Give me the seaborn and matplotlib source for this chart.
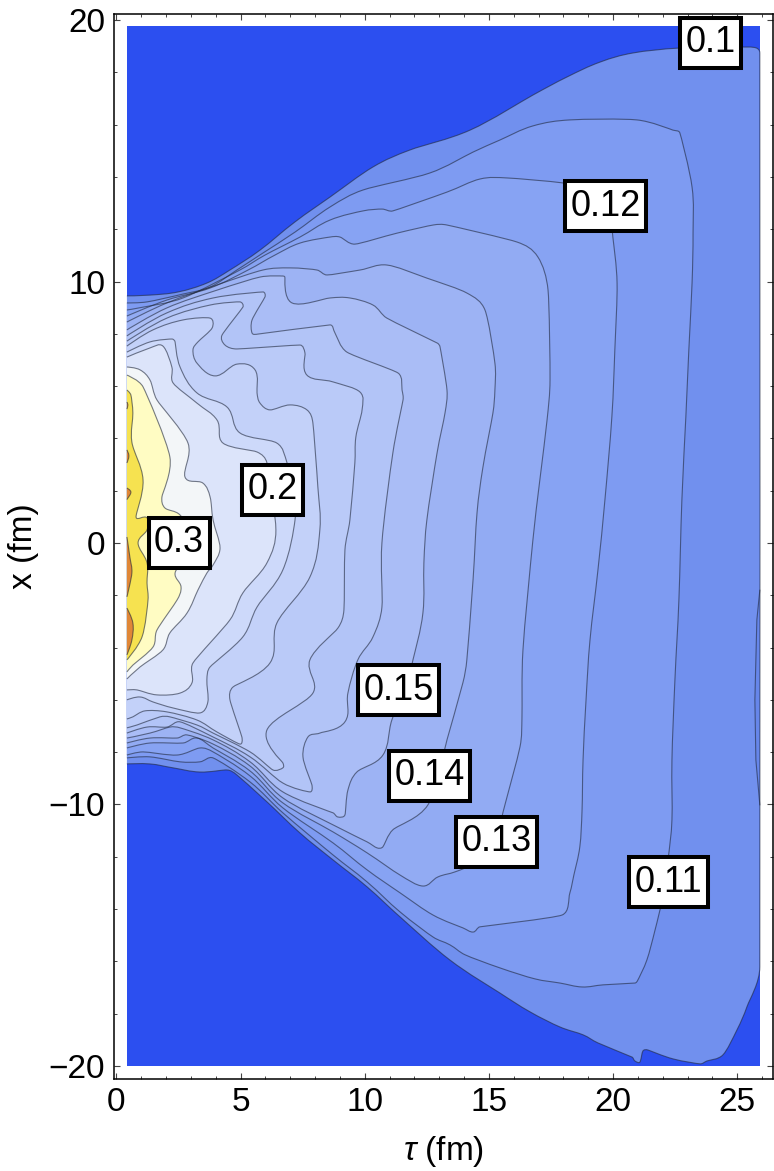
import numpy as np
import pandas as pd
import matplotlib
matplotlib.use('Agg')
import matplotlib.pyplot as plt
from matplotlib.patches import PathPatch
from matplotlib.path import Path
from matplotlib.ticker import MultipleLocator
import seaborn as sns

# Isotherm outlines, (tau, x) in fm, outermost first.
# Each one starts and ends on the left edge of the data region.
tau_range = [0.42, 25.91]
x_range = [-20.0, 19.77]

c_010 = [(0.42, 9.45), (1.35, 9.48), (2.48, 9.60), (3.64, 9.94), (4.57, 10.44), (5.78, 11.20), (7.19, 12.28),
         (8.60, 13.23), (10.33, 14.38), (11.82, 15.03), (14.24, 15.79), (16.77, 17.13), (18.14, 17.82),
         (19.47, 18.39), (20.80, 18.74), (22.69, 18.93), (25.19, 18.97), (25.91, 18.74), (25.91, -16.21),
         (25.39, -17.74), (24.99, -18.62), (24.42, -19.58), (23.78, -19.81), (23.50, -19.92), (22.41, -19.73),
         (21.40, -19.39), (21.20, -19.43), (21.08, -19.85), (20.88, -19.81), (20.76, -19.66), (19.39, -19.12),
         (18.79, -18.81), (17.86, -18.51), (16.65, -17.93), (15.44, -17.21), (13.43, -15.95), (11.42, -14.30),
         (10.09, -13.15), (8.72, -12.12), (7.39, -11.09), (6.06, -9.90), (4.85, -8.87), (4.45, -8.68),
         (3.36, -8.76), (2.28, -8.60), (1.35, -8.45), (0.42, -8.45)]
c_011 = [(0.42, 9.18), (1.23, 9.22), (2.68, 9.52), (3.77, 9.79), (4.85, 10.44), (5.90, 11.09), (7.19, 11.89),
         (8.60, 12.85), (9.93, 13.50), (12.62, 14.15), (14.36, 14.95), (15.44, 15.41), (16.77, 15.95),
         (18.26, 16.18), (20.96, 16.18), (22.41, 15.79), (22.69, 15.68), (23.18, 13.61), (23.22, 11.85),
         (23.18, 9.94), (23.05, 7.38), (22.93, 4.82), (22.77, 1.64), (22.65, -2.18), (22.49, -5.24),
         (22.37, -8.30), (22.37, -10.59), (22.21, -12.12), (21.97, -13.65), (21.69, -14.80), (21.36, -15.95),
         (21.00, -16.71), (20.88, -16.83), (19.59, -16.90), (18.75, -16.98), (17.86, -16.83), (16.85, -16.67),
         (15.44, -16.25), (14.04, -15.75), (13.43, -15.37), (12.75, -15.07), (11.42, -14.11), (10.09, -12.96),
         (8.72, -11.93), (6.70, -10.32), (5.38, -9.14), (3.89, -8.22), (3.36, -8.37), (2.56, -8.37),
         (1.35, -8.18), (0.42, -8.22)]
c_012 = [(0.42, 8.91), (1.07, 9.02), (2.68, 9.37), (4.97, 10.44), (5.98, 11.01), (7.39, 11.70), (8.60, 12.35),
         (9.93, 12.70), (10.69, 12.77), (11.13, 12.70), (13.31, 13.42), (14.64, 13.92), (15.73, 13.96),
         (17.98, 13.77), (19.47, 13.50), (19.87, 12.54), (19.99, 11.70), (20.16, 9.94), (20.07, 7.38),
         (19.95, 4.82), (19.67, 1.64), (19.39, -1.03), (19.07, -3.71), (18.91, -6.01), (18.79, -8.30),
         (18.75, -10.21), (18.66, -11.62), (18.42, -12.70), (18.26, -13.38), (17.94, -14.23), (14.64, -14.68),
         (14.36, -14.88), (13.95, -14.72), (12.75, -14.23), (11.42, -13.38), (10.09, -12.50), (8.72, -11.47),
         (6.70, -10.13), (5.38, -8.91), (3.89, -7.99), (3.36, -7.84), (2.44, -8.11), (1.07, -7.99), (0.42, -8.11)]
c_013 = [(0.42, 8.68), (2.03, 9.29), (3.77, 9.75), (5.30, 10.44), (6.38, 11.01), (7.39, 11.47), (8.60, 11.70),
         (9.00, 11.70), (9.60, 11.43), (11.30, 11.85), (12.75, 12.16), (13.31, 12.16), (16.13, 11.51),
         (16.97, 10.94), (17.38, 9.67), (17.46, 6.23), (17.34, 4.70), (17.05, 2.41), (16.77, 0.11), (16.37, -4.09),
         (16.33, -6.65), (16.25, -7.80), (15.56, -10.32), (15.32, -11.36), (14.24, -12.31), (13.63, -12.58),
         (12.95, -12.77), (12.34, -13.12), (11.42, -12.70), (10.09, -11.85), (8.72, -11.05), (6.70, -9.94),
         (5.38, -8.72), (3.89, -7.84), (3.24, -7.46), (2.68, -7.65), (1.35, -7.65), (0.42, -7.84)]
c_014 = [(0.42, 8.45), (2.03, 9.18), (4.05, 9.87), (5.90, 10.44), (6.99, 10.52), (8.07, 10.44), (8.48, 10.25),
         (9.81, 10.44), (10.89, 10.63), (12.50, 10.13), (14.11, 9.56), (14.84, 8.91), (15.24, 6.88), (15.24, 5.85),
         (15.16, 4.97), (14.76, 2.91), (14.52, 1.15), (14.36, -1.41), (14.11, -4.47), (13.95, -5.35), (13.31, -7.53),
         (13.23, -7.84), (12.54, -10.02), (11.13, -10.97), (10.73, -11.62), (10.49, -11.66), (10.09, -11.43),
         (8.72, -10.78), (6.70, -9.75), (5.38, -8.53), (3.89, -7.69), (2.84, -7.34), (2.44, -7.46), (1.35, -7.46),
         (0.42, -7.65)]
c_015 = [(0.42, 8.15), (2.03, 8.99), (4.05, 9.67), (5.78, 10.17), (6.66, 10.21), (6.78, 10.17), (7.07, 9.18),
         (8.60, 9.37), (9.40, 9.37), (10.33, 9.10), (10.89, 8.60), (12.91, 7.65), (13.03, 7.50), (13.31, 5.85),
         (13.23, 4.97), (12.91, 3.44), (12.50, 0.88), (12.38, -0.76), (12.34, -2.68), (11.94, -4.47), (11.62, -5.62),
         (11.09, -6.77), (10.73, -8.11), (9.68, -8.76), (9.32, -9.45), (9.20, -10.40), (8.92, -10.48), (8.72, -10.32),
         (6.70, -9.52), (5.38, -8.37), (3.89, -7.53), (2.56, -7.07), (2.15, -7.04), (1.35, -7.27), (0.42, -7.46)]
c_016 = [(0.42, 7.92), (2.03, 8.80), (3.89, 9.37), (5.90, 9.60), (5.98, 9.41), (5.46, 8.53), (5.46, 8.03),
         (5.70, 7.99), (8.60, 8.34), (8.80, 8.03), (9.28, 7.30), (11.34, 6.50), (11.50, 5.85), (11.54, 5.47),
         (11.13, 3.44), (10.69, 0.0), (10.69, -2.45), (10.33, -3.59), (9.72, -4.47), (9.32, -5.74), (9.20, -6.84),
         (8.19, -7.27), (7.71, -7.42), (7.51, -8.18), (7.87, -9.25), (7.79, -9.52), (6.70, -9.18), (5.38, -8.18),
         (3.89, -7.42), (2.56, -6.84), (2.03, -7.04), (1.23, -7.04), (0.42, -7.27)]
c_017 = [(0.42, 7.72), (2.03, 8.60), (3.77, 9.10), (4.97, 9.22), (5.09, 9.02), (4.25, 7.95), (4.37, 7.57),
         (4.85, 7.42), (7.39, 7.57), (7.59, 7.27), (7.67, 6.42), (8.72, 6.16), (9.81, 5.77), (9.89, 5.09),
         (9.64, 4.05), (9.60, 3.06), (9.40, 0.88), (9.20, -0.27), (9.16, -2.56), (8.92, -3.25), (7.79, -4.47),
         (7.91, -5.74), (6.06, -7.15), (6.70, -8.41), (6.70, -8.60), (6.30, -8.68), (5.38, -7.99), (3.89, -7.27),
         (3.24, -6.96), (2.15, -6.65), (1.75, -6.65), (0.83, -6.96), (0.42, -7.07)]
c_018 = [(0.42, 7.53), (1.47, 8.15), (2.68, 8.53), (3.77, 8.60), (3.85, 8.22), (3.28, 7.69), (3.08, 7.38),
         (3.24, 6.88), (3.97, 6.39), (4.85, 6.84), (5.58, 6.62), (5.66, 5.74), (5.78, 5.35), (6.18, 5.09),
         (6.99, 5.28), (7.67, 5.09), (7.91, 4.59), (8.11, 2.14), (8.19, 0.50), (7.79, -1.30), (6.46, -3.06),
         (6.18, -4.59), (4.69, -5.51), (4.57, -6.00), (5.05, -7.42), (4.97, -7.69), (4.05, -7.23), (3.24, -6.77),
         (2.03, -6.46), (1.15, -6.42), (0.66, -6.65), (0.42, -6.73)]
c_019 = [(0.42, 7.30), (1.35, 7.69), (2.23, 7.80), (2.36, 7.69), (2.56, 6.73), (3.24, 5.74), (4.45, 5.20),
         (4.97, 4.21), (6.46, 3.82), (6.87, 3.06), (7.11, 2.03), (7.19, 0.88), (6.70, -1.03), (5.66, -2.45),
         (5.09, -3.59), (3.77, -4.74), (3.64, -5.24), (3.68, -6.08), (3.36, -6.50), (2.28, -6.31), (1.47, -6.08),
         (0.95, -5.89), (0.42, -6.00)]
c_020 = [(0.42, 7.11), (1.35, 7.46), (1.87, 7.53), (2.23, 6.73), (2.28, 6.12), (3.24, 5.35), (4.05, 4.70),
         (4.29, 3.82), (5.66, 3.48), (6.06, 3.06), (6.42, 0.50), (6.06, -0.76), (5.09, -1.91), (4.57, -2.94),
         (3.08, -4.59), (3.04, -5.35), (2.56, -5.74), (1.63, -5.81), (0.83, -5.62), (0.42, -5.62)]
c_0225 = [(0.42, 6.73), (0.95, 6.62), (1.35, 6.23), (1.63, 5.47), (2.88, 3.82), (2.76, 2.52), (3.48, 2.29),
          (3.77, 1.76), (3.89, 0.88), (4.17, -0.19), (3.89, -0.84), (3.64, -1.15), (3.28, -1.80), (2.84, -2.68),
          (2.15, -3.44), (1.87, -4.09), (0.95, -4.74), (0.42, -5.20)]
c_025 = [(0.42, 6.42), (1.07, 5.97), (2.15, 3.29), (1.83, 1.76), (1.95, 1.34), (2.56, 1.07), (2.96, 0.31),
         (2.76, -0.65), (2.36, -1.15), (2.60, -1.68), (2.44, -2.18), (1.63, -3.33), (1.47, -3.98), (0.66, -4.67),
         (0.42, -4.93)]
c_030 = [(0.42, 5.85), (0.58, 5.66), (0.66, 4.97), (0.62, 3.86), (1.07, 2.41), (0.79, 0.99), (1.23, 0.96),
         (1.23, 0.50), (0.87, 0.0), (1.23, -0.76), (1.23, -1.53), (1.27, -2.18), (1.03, -3.59), (0.42, -4.47)]
c_035a = [(0.42, 5.39), (0.46, 5.28), (0.42, 5.12)]
c_035b = [(0.42, 3.56), (0.50, 3.33), (0.42, 3.06)]
c_035c = [(0.42, 2.10), (0.58, 1.95), (0.46, 1.72), (0.42, 1.66)]
c_035d = [(0.42, 0.23), (0.54, -0.54), (0.62, -1.15), (0.42, -2.06)]
c_035e = [(0.42, -2.49), (0.66, -3.06), (0.62, -3.71), (0.42, -4.28)]
c_right = [(25.91, -1.80), (25.79, -2.94), (25.71, -6.00), (25.75, -8.30), (25.91, -10.02)]

contours = [c_010, c_011, c_012, c_013, c_014, c_015, c_016, c_017, c_018, c_019, c_020, c_0225, c_025, c_030,
            c_035a, c_035b, c_035c, c_035d, c_035e]
colours = ['#7190EE', '#7E9BF2', '#87A3F3', '#92ABF3', '#9DB3F4', '#AABDF6', '#B2C4F7', '#BACAF8', '#C3D1F9',
           '#CDD9FA', '#DCE4FA', '#F3F6F8', '#FFFCC3', '#F6E250', '#E08737', '#E08737', '#E08737', '#E08737',
           '#E08737']

label_text = ['0.1', '0.12', '0.2', '0.3', '0.15', '0.14', '0.13', '0.11']
label_tau = [23.94, 19.70, 6.28, 2.52, 11.36, 12.60, 15.30, 22.23]
label_x = [19.14, 12.87, 2.03, 0.0, -5.63, -8.91, -11.43, -12.97]

LINE_COLOUR = '#20283C'


def curve_through(points):
    """Bezier path through the read points, so contours do not look kinked."""
    pts = np.array(points)
    tangents = np.zeros_like(pts)
    for i in range(1, len(pts) - 1):
        before = np.linalg.norm(pts[i] - pts[i - 1])
        after = np.linalg.norm(pts[i + 1] - pts[i])
        chord = pts[i + 1] - pts[i - 1]
        tangents[i] = chord / np.linalg.norm(chord) * min(before, after) / 2.6
    verts = [pts[0]]
    codes = [Path.MOVETO]
    for i in range(len(pts) - 1):
        verts += [pts[i] + tangents[i], pts[i + 1] - tangents[i + 1], pts[i + 1]]
        codes += [Path.CURVE4, Path.CURVE4, Path.CURVE4]
    return verts, codes


def draw_contour(ax, points, colour):
    verts, codes = curve_through(points)
    filled = Path(verts + [verts[0]], codes + [Path.LINETO])
    ax.add_patch(PathPatch(filled, fc=colour, ec='none', lw=0, zorder=2))
    ax.add_patch(PathPatch(Path(verts, codes), fc='none', ec=LINE_COLOUR, alpha=0.6, lw=0.8, zorder=3))


def label_box(x0, y0, width, height, mutation_size):
    # Mathematica's label frames are taller than the text box matplotlib would give.
    pad_x = 5.5
    half_h = 25.0
    mid = y0 + height / 2
    return Path([(x0 - pad_x, mid - half_h), (x0 + width + pad_x, mid - half_h),
                 (x0 + width + pad_x, mid + half_h), (x0 - pad_x, mid + half_h), (x0 - pad_x, mid - half_h)],
                closed=True)


def main():
    sns.set_style('ticks')
    plt.rcParams['font.family'] = ['Liberation Sans', 'DejaVu Sans']
    plt.rcParams['mathtext.fontset'] = 'custom'
    plt.rcParams['mathtext.it'] = 'Liberation Sans:italic'
    plt.rcParams['mathtext.fallback'] = 'stixsans'
    plt.rcParams['text.color'] = 'black'
    plt.rcParams['axes.labelcolor'] = 'black'
    plt.rcParams['xtick.labelcolor'] = 'black'
    plt.rcParams['ytick.labelcolor'] = 'black'

    fig = plt.figure(figsize=(7.74, 11.71), dpi=100)
    ax = fig.add_axes([113.5 / 774, 1 - 1079 / 1171, (773 - 113.5) / 774, (1079 - 13.5) / 1171])

    ax.fill([tau_range[0], tau_range[1], tau_range[1], tau_range[0]],
            [x_range[0], x_range[0], x_range[1], x_range[1]], color='#2C4FF0', lw=0, zorder=1)
    for points, colour in zip(contours, colours):
        draw_contour(ax, points, colour)

    # small dip at the far right, inside the 0.1 band
    right = pd.DataFrame(c_right, columns=['tau', 'x'])
    ax.fill(right['tau'], right['x'], color='#6686EA', lw=0, zorder=2)
    sns.lineplot(data=right, x='tau', y='x', sort=False, estimator=None, ax=ax,
                 color=LINE_COLOUR, alpha=0.6, lw=0.8, zorder=3)

    for text, tau, x in zip(label_text, label_tau, label_x):
        ax.text(tau, x, text, fontsize=26, ha='center', va='center', color='black', zorder=5,
                bbox=dict(boxstyle=label_box, fc='white', ec='black', lw=2.9))

    ax.set_xlim(-0.12, 26.44)
    ax.set_ylim(-20.5, 20.25)
    ax.xaxis.set_major_locator(MultipleLocator(5))
    ax.xaxis.set_minor_locator(MultipleLocator(1))
    ax.yaxis.set_major_locator(MultipleLocator(10))
    ax.yaxis.set_minor_locator(MultipleLocator(2))
    ax.tick_params(which='major', direction='in', length=4, width=0.8, color='#444444',
                   top=True, right=True, labelsize=24, pad=6)
    ax.tick_params(which='minor', direction='in', length=2.2, width=0.7, color='#444444', top=True, right=True)
    for spine in ax.spines.values():
        spine.set_linewidth(1.1)
        spine.set_color('black')
        spine.set_zorder(6)

    ax.set_xlabel(r'$\tau$ (fm)', fontsize=24, labelpad=11)
    ax.set_ylabel('x (fm)', fontsize=24, labelpad=7)

    plt.savefig('out.png', dpi=100)


if __name__ == '__main__':
    main()
